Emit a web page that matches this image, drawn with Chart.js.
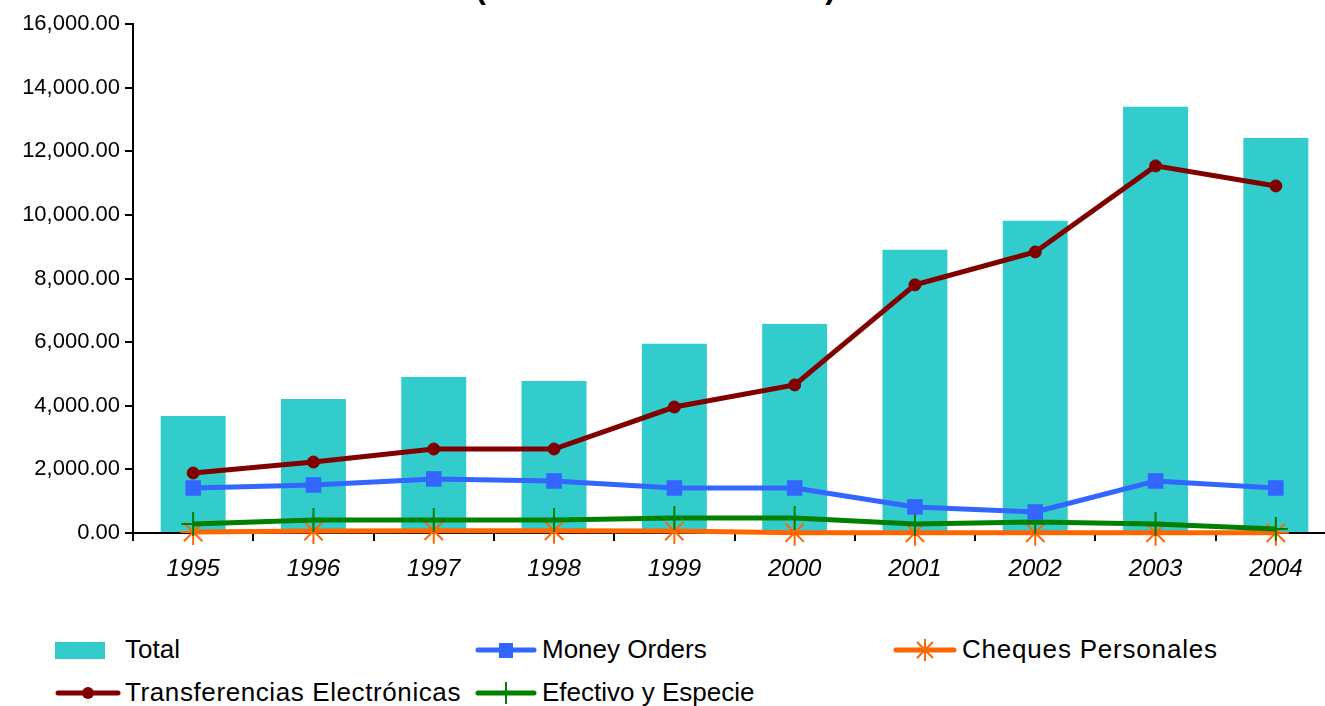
<!DOCTYPE html>
<html>
<head>
<meta charset="utf-8">
<script src="https://cdn.jsdelivr.net/npm/chart.js@4.4.1/dist/chart.umd.min.js"></script>
<style>
  html, body { margin: 0; padding: 0; background: #fff; overflow: hidden; }
  body { width: 1325px; height: 706px; position: relative; font-family: "Liberation Sans", Arial, sans-serif; }
  #titulo { position: absolute; top: -30px; left: -7px; width: 1325px; text-align: center; font-size: 31px; font-weight: bold; color: #000; }
  #wrap { position: absolute; top: 0; left: 0; width: 1351px; height: 600px; }
  .item { position: absolute; display: flex; align-items: center; font-size: 26px; color: #000; }
  .item canvas { display: block; margin-right: 5px; }
</style>
</head>
<body>
<div id="titulo">(En Millones de Dólares)</div>
<div id="wrap"><canvas id="grafico" width="1351" height="600"></canvas></div>
<div id="leyenda"></div>
<script>
// ==========================
// DATOS
// ==========================
const years = ['1995', '1996', '1997', '1998', '1999', '2000', '2001', '2002', '2003', '2004'];

const total = [3680, 4215, 4905, 4780, 5945, 6570, 8900, 9815, 13400, 12420];
const moneyOrders = [1415, 1510, 1700, 1635, 1415, 1415, 820, 660, 1635, 1415];
const cheques = [30, 60, 70, 70, 60, 10, 5, 5, 5, 5];
const transferencias = [1885, 2230, 2640, 2640, 3960, 4655, 7800, 8835, 11540, 10910];
const efectivo = [285, 410, 410, 410, 470, 470, 285, 345, 285, 125];

const yMax = 16000;
const yStep = 2000;

// ==========================
// GRAFICO
// ==========================
const ctx = document.getElementById('grafico').getContext('2d');

const grafico = new Chart(ctx, {
    data: {
        labels: years,
        datasets: [
            {
                type: 'bar',
                label: 'Total',
                data: total,
                backgroundColor: '#33CCCC',
                categoryPercentage: 1,
                barPercentage: 0.54,
                order: 5
            },
            {
                type: 'line',
                label: 'Money Orders',
                data: moneyOrders,
                borderColor: '#3366FF',
                backgroundColor: '#3366FF',
                borderWidth: 5,
                pointStyle: 'rect',
                pointRadius: 11,
                pointBorderWidth: 0,
                clip: false,
                order: 2
            },
            {
                type: 'line',
                label: 'Cheques Personales',
                data: cheques,
                borderColor: '#FF6600',
                backgroundColor: '#FF6600',
                borderWidth: 5,
                pointStyle: 'star',
                pointRadius: 13,
                pointBorderWidth: 2,
                clip: false,
                order: 4
            },
            {
                type: 'line',
                label: 'Transferencias Electrónicas',
                data: transferencias,
                borderColor: '#800000',
                backgroundColor: '#800000',
                borderWidth: 5,
                pointStyle: 'circle',
                pointRadius: 6,
                pointBorderWidth: 1,
                clip: false,
                order: 1
            },
            {
                type: 'line',
                label: 'Efectivo y Especie',
                data: efectivo,
                borderColor: '#008000',
                backgroundColor: '#008000',
                borderWidth: 5,
                pointStyle: 'cross',
                pointRadius: 12,
                pointBorderWidth: 2,
                clip: false,
                order: 3
            }
        ]
    },
    options: {
        responsive: false,
        animation: false,
        layout: { padding: { top: 24, right: 5, left: 0, bottom: 0 } },
        plugins: {
            legend: { display: false },
            title: { display: false },
            tooltip: { enabled: false }
        },
        scales: {
            x: {
                offset: true,
                grid: { display: true, drawOnChartArea: false, offset: true, tickLength: 8, color: '#000', lineWidth: 2 },
                border: { color: '#000', width: 2 },
                ticks: {
                    color: '#000',
                    padding: 14,
                    font: { family: 'Liberation Sans', size: 24, style: 'italic' }
                },
                afterFit: function (scale) { scale.height = 67; }
            },
            y: {
                min: 0,
                max: yMax,
                grid: { display: true, drawOnChartArea: false, tickLength: 8, color: '#000', lineWidth: 2 },
                border: { color: '#000', width: 2 },
                ticks: {
                    stepSize: yStep,
                    color: '#000',
                    padding: 5,
                    font: { family: 'Liberation Sans', size: 22 },
                    callback: function (v) {
                        return v.toLocaleString('en-US', { minimumFractionDigits: 2, maximumFractionDigits: 2 });
                    }
                },
                afterFit: function (scale) { scale.width = 133; }
            }
        }
    }
});

// ==========================
// LEYENDA
// ==========================
const leyenda = [
    { ds: 0, x: 55, y: 649, w: 50, gap: 20, sp: 0 },
    { ds: 1, x: 475, y: 649, w: 62, gap: 5, sp: 0 },
    { ds: 2, x: 893, y: 649, w: 64, gap: 5, sp: 0.8 },
    { ds: 3, x: 55, y: 692, w: 66, gap: 4, sp: 0.6 },
    { ds: 4, x: 475, y: 692, w: 62, gap: 5, sp: 0 }
];

function dibujarMarca(c, ds, w) {
    const g = c.getContext('2d');
    const cy = 13;
    const cx = w / 2;
    if (ds.type === 'bar') {
        g.fillStyle = ds.backgroundColor;
        g.fillRect(0, cy - 8, w, 17);
        return;
    }
    g.strokeStyle = ds.borderColor;
    g.fillStyle = ds.borderColor;
    g.lineWidth = 5;
    g.lineCap = 'round';
    g.beginPath();
    g.moveTo(3, cy);
    g.lineTo(w - 3, cy);
    g.stroke();
    g.lineWidth = 2;
    g.lineCap = 'butt';
    if (ds.pointStyle === 'rect') {
        g.fillRect(cx - 7, cy - 7, 14, 15);
    } else if (ds.pointStyle === 'circle') {
        g.beginPath();
        g.arc(cx, cy, 6, 0, Math.PI * 2);
        g.fill();
    } else if (ds.pointStyle === 'cross') {
        g.beginPath();
        g.moveTo(cx, cy - 11);
        g.lineTo(cx, cy + 11);
        g.stroke();
    } else if (ds.pointStyle === 'star') {
        g.beginPath();
        g.moveTo(cx, cy - 11);
        g.lineTo(cx, cy + 11);
        g.moveTo(cx - 8, cy - 8);
        g.lineTo(cx + 8, cy + 8);
        g.moveTo(cx + 8, cy - 8);
        g.lineTo(cx - 8, cy + 8);
        g.stroke();
    }
}

const cont = document.getElementById('leyenda');
leyenda.forEach(function (it) {
    const ds = grafico.data.datasets[it.ds];
    const div = document.createElement('div');
    div.className = 'item';
    div.style.left = it.x + 'px';
    div.style.top = (it.y - 15) + 'px';
    const c = document.createElement('canvas');
    c.width = it.w;
    c.height = 26;
    c.style.marginRight = it.gap + 'px';
    dibujarMarca(c, ds, it.w);
    div.appendChild(c);
    const s = document.createElement('span');
    s.textContent = ds.label;
    s.style.letterSpacing = it.sp + 'px';
    div.appendChild(s);
    cont.appendChild(div);
});
</script>
</body>
</html>
